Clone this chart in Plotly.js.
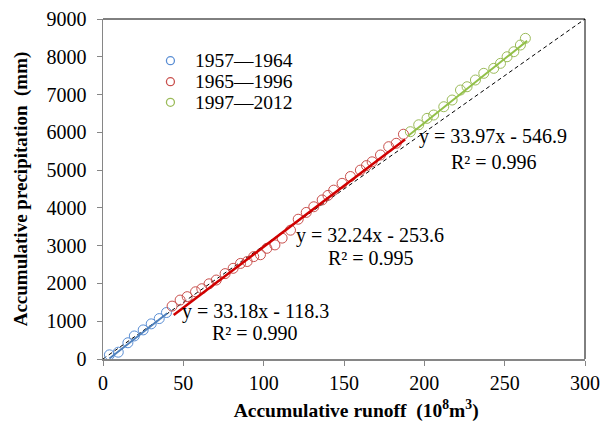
<!DOCTYPE html>
<html>
<head>
<meta charset="utf-8">
<script src="https://cdn.plot.ly/plotly-3.0.1.min.js"></script>
<style>html,body{margin:0;padding:0;background:#fff;}#chart{width:611px;height:433px;}</style>
</head>
<body>
<div id="chart"></div>
<script>
// Period labels
const periods = ["1957\u20141964", "1965\u20141996", "1997\u20142012"];
// Accumulative runoff (10^8 m^3) and accumulative precipitation (mm)
const runoff1 = [4.0, 9.5, 15.5, 19.5, 25.0, 30.0, 35.0, 39.5];
const precip1 = [110, 180, 430, 610, 770, 930, 1070, 1230];
const runoff2 = [43.0, 48.0, 52.4, 57.6, 61.5, 66.0, 70.5, 76.0, 81.0, 85.6, 89.7, 93.8, 98.0, 102.0, 107.0, 111.5,
                 116.7, 121.5, 126.5, 131.2, 136.4, 140.0, 143.6, 148.8, 154.0, 160.2, 164.0, 167.5, 172.7, 177.8, 182.5, 187.0];
const precip2 = [1400, 1560, 1650, 1780, 1860, 1990, 2090, 2260, 2400, 2530, 2580, 2710, 2760, 2930, 3020, 3200,
                 3410, 3700, 3880, 4030, 4210, 4330, 4470, 4650, 4830, 5000, 5120, 5220, 5400, 5620, 5710, 5950];
const runoff3 = [191.3, 196.5, 201.7, 205.8, 212.1, 217.3, 222.5, 226.6, 231.8, 237.0, 243.2, 247.4, 251.5, 255.7, 259.8, 262.9];
const precip3 = [6017, 6200, 6370, 6458, 6678, 6855, 7120, 7207, 7385, 7562, 7694, 7826, 8001, 8134, 8311, 8488];
// Fitted lines: slope, intercept, x-range
const fitSlope = [33.18, 32.24, 33.97];
const fitIntercept = [-118.3, -253.6, -546.9];
const fitRange = [[4, 40], [44, 188], [190, 264]];
const fitR2 = ["0.990", "0.995", "0.996"];
// Reference 1:1 dashed line endpoints
const refX = [0, 300];
const refY = [0, 9000];

const FONT = 'Liberation Serif, Times New Roman, serif';
const colors = ["#5A8ED4", "#C9504D", "#9BBB59"];
const lineColors = ["#4F81BD", "#D00000", "#92C048"];
const lineWidths = [2, 2.5, 2];
const runoffs = [runoff1, runoff2, runoff3];
const precips = [precip1, precip2, precip3];

const traces = [];
traces.push({x: refX, y: refY, mode: 'lines', line: {color: '#000', width: 1, dash: '4px,3px'}, showlegend: false, hoverinfo: 'skip'});
for (let i = 0; i < 3; i++) {
  traces.push({x: runoffs[i], y: precips[i], mode: 'markers', type: 'scatter', name: periods[i],
    marker: {symbol: 'circle-open', size: 10, color: colors[i], line: {width: 1, color: colors[i]}},
    showlegend: false});
}
for (let i = 0; i < 3; i++) {
  const xs = fitRange[i];
  traces.push({x: xs, y: xs.map(v => fitSlope[i] * v + fitIntercept[i]), mode: 'lines',
    line: {color: lineColors[i], width: lineWidths[i]}, showlegend: false});
}

// Equation label positions (data coords): [eqX, eqY, r2X, r2Y]
const eqPos = [[94.8, 1252, 94.8, 680], [166.3, 3282, 166.9, 2666], [242.5, 5884, 243.4, 5222]];
const annotations = [];
for (let i = 0; i < 3; i++) {
  const b = Math.abs(fitIntercept[i]).toFixed(1);
  annotations.push({x: eqPos[i][0], y: eqPos[i][1], xref: 'x', yref: 'y', showarrow: false,
    xanchor: 'center', yanchor: 'middle',
    text: 'y = ' + fitSlope[i].toFixed(2) + 'x - ' + b,
    font: {family: FONT, size: 20, color: '#000'}});
  annotations.push({x: eqPos[i][2], y: eqPos[i][3], xref: 'x', yref: 'y', showarrow: false,
    xanchor: 'center', yanchor: 'middle',
    text: 'R\u00b2 = ' + fitR2[i],
    font: {family: FONT, size: 20, color: '#000'}});
}
// Legend (drawn manually for exact spacing)
const legY = [0.8774, 0.8156, 0.7550];
const shapes = [
  {type: 'line', xref: 'paper', yref: 'paper', x0: 0, x1: 1, y0: 1, y1: 1, line: {color: '#000', width: 1}},
  {type: 'line', xref: 'paper', yref: 'paper', x0: 1, x1: 1, y0: 0, y1: 1, line: {color: '#000', width: 1}}
];
for (let i = 0; i < 3; i++) {
  shapes.push({type: 'circle', xref: 'paper', yref: 'paper', xsizemode: 'pixel', ysizemode: 'pixel',
    xanchor: 0.1399, yanchor: legY[i], x0: -4, x1: 4, y0: -4, y1: 4,
    line: {color: colors[i], width: 1.3}});
  annotations.push({x: 0.1875, y: legY[i], xref: 'paper', yref: 'paper', showarrow: false,
    xanchor: 'left', yanchor: 'middle', text: periods[i],
    font: {family: FONT, size: 19.5, color: '#000'}});
}

const layout = {
  width: 611, height: 433,
  margin: {l: 102.5, r: 26, t: 19, b: 74},
  paper_bgcolor: '#fff', plot_bgcolor: '#fff',
  font: {family: FONT, color: '#000'},
  showlegend: false,
  xaxis: {range: [0, 300], dtick: 50, tick0: 0, showgrid: false, zeroline: false,
    showline: true, linecolor: '#868686', linewidth: 1.5, ticks: 'outside', ticklen: 5, tickcolor: '#868686',
    tickfont: {family: FONT, size: 20, color: '#000'},
    title: {text: '&nbsp;&nbsp;&nbsp;&nbsp;&nbsp;<b>Accumulative runoff  (10<sup>8</sup>m<sup>3</sup>)</b>', font: {family: FONT, size: 19.5, color: '#000'}, standoff: 11}},
  yaxis: {range: [0, 9000], dtick: 1000, tick0: 0, showgrid: false, zeroline: false,
    showline: true, linecolor: '#868686', linewidth: 1.5, ticks: 'outside', ticklen: 5, tickcolor: '#868686',
    ticklabelstandoff: 6,
    tickfont: {family: FONT, size: 20, color: '#000'},
    title: {text: '<b>Accumulative precipitation  (mm)</b>', font: {family: FONT, size: 19, color: '#000'}, standoff: 14}},
  shapes: shapes,
  annotations: annotations
};
Plotly.newPlot('chart', traces, layout, {displayModeBar: false, staticPlot: true});
</script>
</body>
</html>
